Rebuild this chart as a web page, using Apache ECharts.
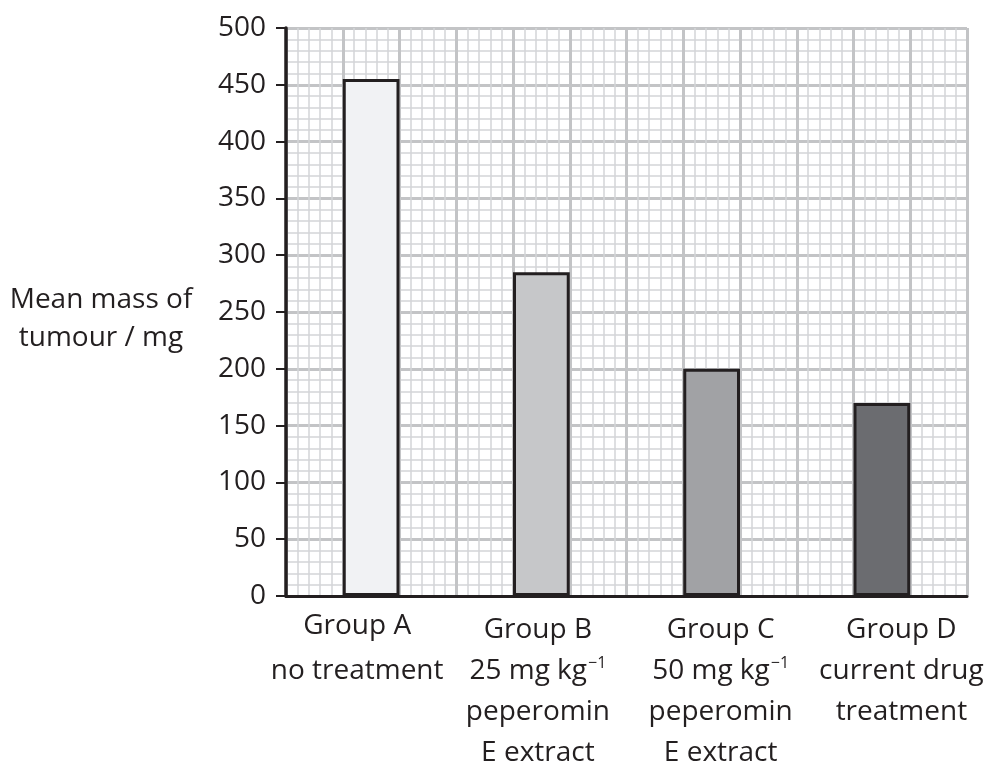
<!DOCTYPE html>
<html>
<head>
<meta charset="utf-8">
<script src="https://cdn.jsdelivr.net/npm/echarts@6/dist/echarts.min.js"></script>
<style>
html,body{margin:0;padding:0;background:#fff;}
#chart{width:988px;height:765px;}
</style>
</head>
<body>
<div id="chart"></div>
<script>
// ---- data ----
const categories = ['Group A', 'Group B', 'Group C', 'Group D'];
const labelLines = [
  ['Group A', 'no treatment'],
  ['Group B', '25 mg kg^−1', 'peperomin', 'E extract'],
  ['Group C', '50 mg kg^−1', 'peperomin', 'E extract'],
  ['Group D', 'current drug', 'treatment']
];
const meanMass = [455, 285, 200, 170];
const barColors = ['#f1f2f4', '#c6c7c9', '#a1a2a5', '#6b6c70'];
const yTicks = { min: 0, max: 500, interval: 50 };
const yTitle = 'Mean mass of\ntumour / mg';

// ---- styles ----
const FONT = 'Open Sans';
const INK = '#231f20';
const FS = 28;
const labelShift = [
  { padding: [2, 28, 0, 0], lineHeight: 45 },
  { padding: [8, 7, 0, 0], lineHeight: 41 },
  { padding: [8, 0, 0, 18], lineHeight: 41 },
  { padding: [8, 0, 0, 39], lineHeight: 41 }
];

const catData = categories.map((c, i) => ({
  value: c,
  textStyle: labelShift[i]
}));

const chart = echarts.init(document.getElementById('chart'), null, { renderer: 'canvas' });

const option = {
  backgroundColor: '#ffffff',
  animation: false,
  grid: { left: 286, right: 21, top: 28, bottom: 169, containLabel: false, outerBoundsMode: 'none' },
  graphic: [
    {
      type: 'text', x: 101, y: 281, z: 20,
      style: {
        text: yTitle, fill: INK, fontFamily: FONT, fontSize: FS,
        lineHeight: 38, align: 'center', verticalAlign: 'top'
      }
    }
  ],
  xAxis: [
    {
      type: 'value', min: 0, max: 60, interval: 5,
      axisLine: { show: false }, axisTick: { show: false }, axisLabel: { show: false },
      splitLine: { show: true, lineStyle: { color: '#c3c4c6', width: 3 } },
      minorTick: { show: false, splitNumber: 5 },
      minorSplitLine: { show: true, lineStyle: { color: '#d4d5d7', width: 1.5 } }
    },
    {
      type: 'category', position: 'bottom', data: catData, z: 10,
      axisLine: { show: true, lineStyle: { color: INK, width: 3 } },
      axisTick: { show: false },
      splitLine: { show: false },
      axisLabel: {
        interval: 0, margin: 6, color: INK, fontFamily: FONT, fontSize: FS,
        formatter: function (v) {
          const i = categories.indexOf(v);
          return labelLines[i].map(l => l.replace(/\^(.+)$/, '{s|$1}')).join('\n');
        },
        rich: {
          s: { fontSize: 16, fontFamily: FONT, color: INK, verticalAlign: 'top', padding: [4, 0, 0, 1] }
        }
      }
    }
  ],
  yAxis: [
    {
      type: 'value', min: yTicks.min, max: yTicks.max, interval: yTicks.interval,
      axisLine: { show: false }, axisTick: { show: false }, axisLabel: { show: false },
      splitLine: { show: true, lineStyle: { color: '#c3c4c6', width: 3 } },
      minorTick: { show: false, splitNumber: 5 },
      minorSplitLine: { show: true, lineStyle: { color: '#d4d5d7', width: 1.5 } }
    },
    {
      type: 'value', min: yTicks.min, max: yTicks.max, interval: yTicks.interval, z: 10,
      position: 'left',
      axisLine: { show: true, lineStyle: { color: INK, width: 3.5 } },
      axisTick: { show: true, length: 10, lineStyle: { color: INK, width: 2 } },
      axisLabel: { show: true, margin: 20, color: INK, fontFamily: FONT, fontSize: FS },
      splitLine: { show: false }
    }
  ],
  series: [
    {
      type: 'bar',
      xAxisIndex: 1,
      yAxisIndex: 0,
      barWidth: '33.333%',
      data: meanMass.map((v, i) => ({
        value: v,
        itemStyle: { color: barColors[i], borderColor: INK, borderWidth: 3 }
      }))
    }
  ]
};
chart.setOption(option);
</script>
</body>
</html>
